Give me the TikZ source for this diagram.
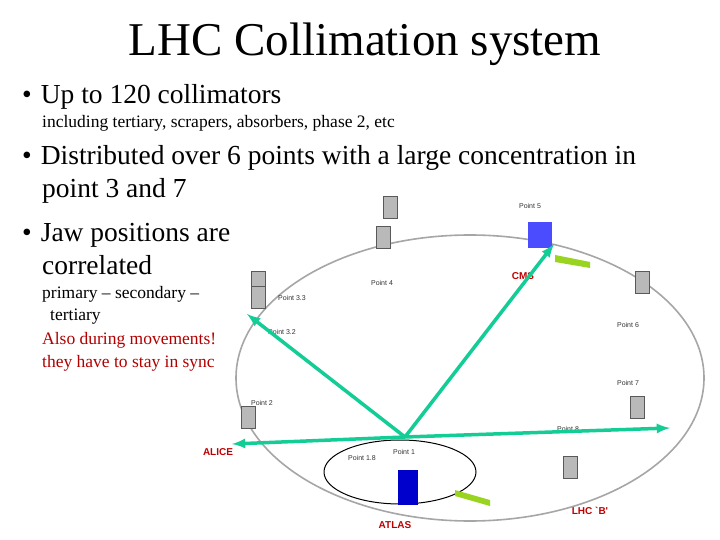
\documentclass[tikz,border=0pt]{standalone}
\usepackage{fontspec}
\setmainfont{Liberation Serif}
\newfontfamily\lab{Liberation Sans}
\definecolor{arrg}{RGB}{20,205,150}
\begin{document}
\begin{tikzpicture}[x=1pt,y=-1pt,
  bul/.style={anchor=base west,inner sep=0pt,font=\fontsize{27.5}{30}\selectfont,align=left},
  sub/.style={anchor=base west,inner sep=0pt,font=\fontsize{17.5}{20}\selectfont,align=left},
  pt/.style={font=\lab\fontsize{7}{8}\selectfont,text=black!80},
  det/.style={font=\lab\fontsize{10}{11}\selectfont\bfseries,text=red!75!black},
  arr/.style={draw=arrg,line width=3.5pt,-latex},
  bld/.style={fill=gray!55,draw=gray!70!black,line width=0.3pt}]
\useasboundingbox (0,0) rectangle (720,540);
\fill[white] (0,0) rectangle (720,540);
% ring
\draw[gray!70,line width=1.6pt] (470,378) ellipse [x radius=234,y radius=143];
\draw[black,line width=1pt] (400,472) ellipse [x radius=76,y radius=32];
% buildings on the ring
\foreach \x/\y in {383/240,390/210,258/285,248/420,642/285,637/410,570/470,258/300}
  \fill[bld] (\x-7,\y-14) rectangle (\x+7,\y+8);
\fill[blue!70] (528,222) rectangle (552,248);
\fill[blue!80!black] (398,470) rectangle (418,505);
\fill[yellow!60!green] (555,255) -- (590,262) -- (590,268) -- (555,262) -- cycle;
\fill[yellow!60!green] (455,490) -- (490,500) -- (490,506) -- (455,496) -- cycle;
% labels
\node[pt] (p5) at (530,206) {Point 5};
\node[det] (cms) at (523,276) {CMS};
\node[pt] (p4) at (382,283) {Point 4};
\node[pt] (p33) at (292,298) {Point 3.3};
\node[pt] (p32) at (282,332) {Point 3.2};
\node[pt] (p6) at (628,325) {Point 6};
\node[pt] (p7) at (628,383) {Point 7};
\node[pt] (p8) at (568,429) {Point 8};
\node[pt] (p2) at (262,403) {Point 2};
\node[det] (alice) at (218,452) {ALICE};
\node[pt] (p18) at (362,458) {Point 1.8};
\node[pt] (p1) at (404,452) {Point 1};
\node[det] (atlas) at (395,525) {ATLAS};
\node[det] (lhcb) at (590,511) {LHC `B'};
% arrows
\coordinate (c) at (405,437);
\coordinate (a1) at (247,314);
\coordinate (a2) at (554,244);
\coordinate (a3) at (232,444);
\coordinate (a4) at (670,428);
\draw[arr] (c) -- (a1);
\draw[arr] (c) -- (a2);
\draw[arr] (c) -- (a3);
\draw[arr] (c) -- (a4);
% text
\node[font=\fontsize{47}{50}\selectfont] (title) at (365,44) {LHC Collimation system};
\node[bul] (b1) at (22,104) {•\hspace{9pt}Up to 120 collimators};
\node[sub] (s1) at (42,128) {including tertiary, scrapers, absorbers, phase 2, etc};
\node[bul] (b2) at (22,165) {•\hspace{9pt}Distributed over 6 points with a large concentration in};
\node[bul] (b2b) at (42,198) {point 3 and 7};
\node[bul] (b3) at (22,241) {•\hspace{9pt}Jaw positions are};
\node[bul] (b3b) at (42,274) {correlated};
\node[sub] (s2) at (42,298) {primary -- secondary --};
\node[sub] (s3) at (50,320) {tertiary};
\node[sub,text=red!70!black] (s4) at (42,344) {Also during movements!};
\node[sub,text=red!70!black] (s5) at (42,367) {they have to stay in sync};
\end{tikzpicture}
\end{document}
